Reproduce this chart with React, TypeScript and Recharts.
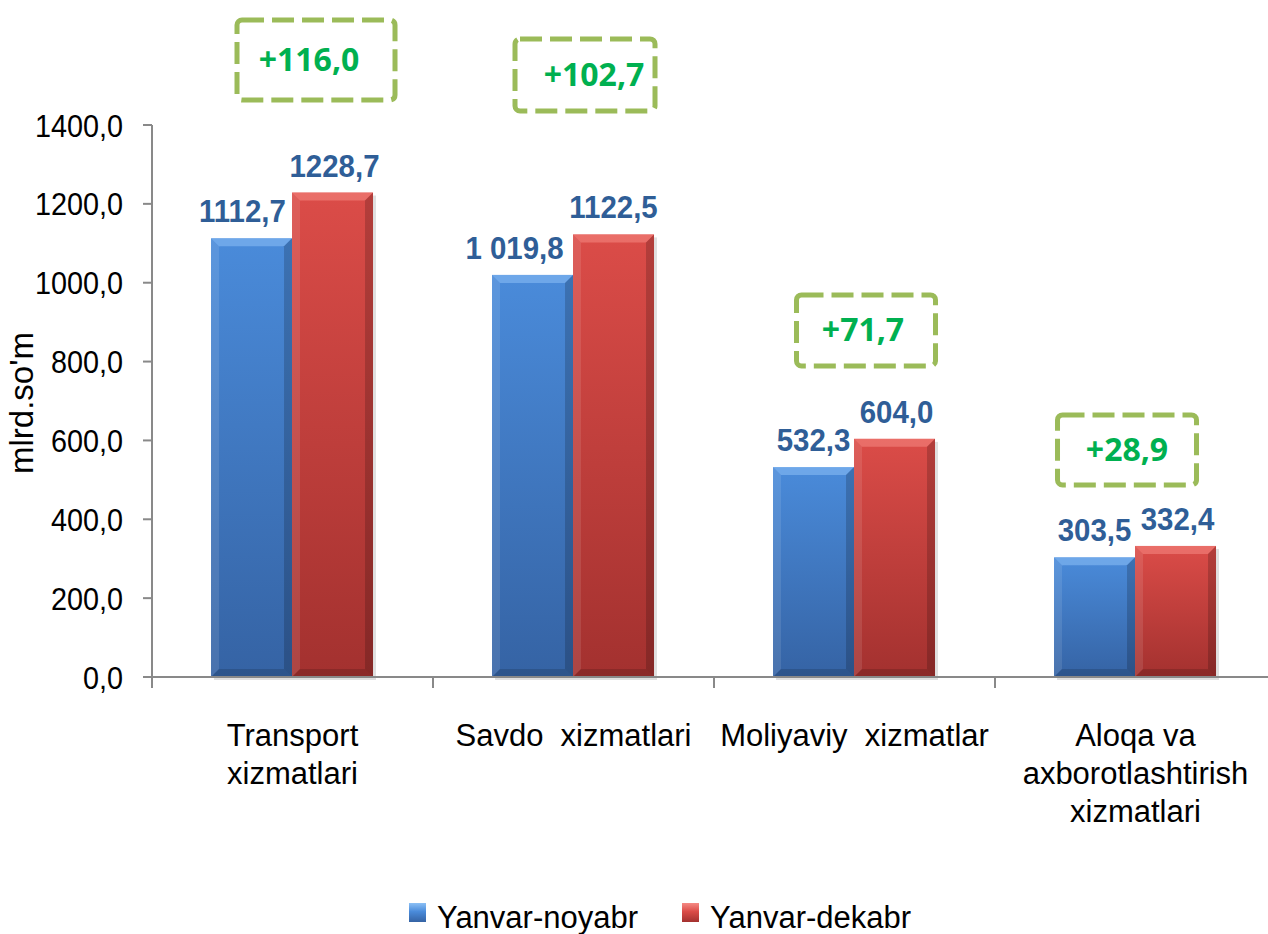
import React from 'react';
import { BarChart, Bar, XAxis, YAxis, LabelList } from 'recharts';

// values
const categories = [
  'Transport\nxizmatlari',
  'Savdo  xizmatlari',
  'Moliyaviy  xizmatlar',
  'Aloqa va\naxborotlashtirish\nxizmatlari',
];
const novValues = [1112.7, 1019.8, 532.3, 303.5];
const decValues = [1228.7, 1122.5, 604.0, 332.4];
const novLabels = ['1112,7', '1 019,8', '532,3', '303,5'];
const seriesNames = ['Yanvar-noyabr', 'Yanvar-dekabr'];
const yTicks = [0, 200, 400, 600, 800, 1000, 1200, 1400];

const fmt = (v: number) => v.toFixed(1).replace('.', ',');

const data = categories.map((name, i) => ({
  name,
  nov: novValues[i],
  dec: decValues[i],
  novLabel: novLabels[i],
  decLabel: fmt(decValues[i]),
  diff: '+' + fmt(decValues[i] - novValues[i]),
}));

// layout
const CHART_W = 1290;
const CHART_H = 934;
const MARGIN = { top: 125, right: 14, bottom: 57, left: 0 };
const Y_W = 152;
const BAND = (CHART_W - MARGIN.left - MARGIN.right - Y_W) / categories.length;
const FONT = '"Liberation Sans", Arial, sans-serif';
const AXIS = '#898989';

// difference boxes: x shift from category centre (px), centre level (data units), size
const NOTE_LAYOUT = [
  { dx: 24, level: 1565, w: 158, h: 80, textDx: -7 },
  { dx: 12, level: 1527, w: 140, h: 72, textDx: 9 },
  { dx: 12, level: 879, w: 139, h: 71, textDx: -3 },
  { dx: -8, level: 576, w: 139, h: 70, textDx: 0 },
];
// small horizontal nudges of the value labels (px)
const NOV_LABEL_DX = [-9, -18, 0, 0];
const DEC_LABEL_DX = [2, 0, 2, 2];

const COLORS = {
  nov: { grad: 'gBlue', top: '#4A8BDA', bottom: '#3563A4', light: '#8CC0F5' },
  dec: { grad: 'gRed', top: '#DB4C48', bottom: '#A3312F', light: '#F58A84' },
};

function bevelShape(c: { grad: string; light: string }) {
  return (props: any) => {
    const { x, y, width: w, height: h } = props;
    if (!h || h <= 0) return <g />;
    const b = 8;
    return (
      <g>
        <rect x={x + 3} y={y + 3} width={w} height={h} fill="rgba(0,0,0,0.12)" />
        <rect x={x} y={y} width={w} height={h} fill={`url(#${c.grad})`} />
        <polygon
          points={`${x},${y} ${x + w},${y} ${x + w - b},${y + b} ${x + b},${y + b}`}
          fill={c.light}
          opacity={0.55}
        />
        <polygon
          points={`${x},${y} ${x + b},${y + b} ${x + b},${y + h - b} ${x},${y + h}`}
          fill="#fff"
          opacity={0.1}
        />
        <polygon
          points={`${x + w},${y} ${x + w},${y + h} ${x + w - b},${y + h - b} ${x + w - b},${y + b}`}
          fill="#000"
          opacity={0.18}
        />
        <polygon
          points={`${x},${y + h} ${x + w},${y + h} ${x + w - b},${y + h - b} ${x + b},${y + h - b}`}
          fill="#000"
          opacity={0.15}
        />
      </g>
    );
  };
}

function CatTick(props: any) {
  const { x, y, payload, index } = props;
  const lines = String(payload.value).split('\n');
  return (
    <g>
      <line x1={x - BAND / 2} x2={x - BAND / 2} y1={y} y2={y + 11} stroke={AXIS} strokeWidth={2} />
      {index === categories.length - 1 && (
        <line x1={x + BAND / 2} x2={x + BAND / 2} y1={y} y2={y + 11} stroke={AXIS} strokeWidth={2} />
      )}
      <text
        x={x}
        y={y + 69}
        textAnchor="middle"
        fontSize={31}
        fontFamily={FONT}
        fill="#000"
        style={{ whiteSpace: 'pre' }}
      >
        {lines.map((l, i) => (
          <tspan key={i} x={x} dy={i === 0 ? 0 : 38}>
            {l}
          </tspan>
        ))}
      </text>
    </g>
  );
}

function ValTick(props: any) {
  const { x, y, payload } = props;
  return (
    <text
      transform={`translate(${x}, ${y}) scale(0.9, 1)`}
      x={0}
      y={0}
      dy="0.36em"
      textAnchor="end"
      fontSize={32}
      fontFamily={FONT}
      fill="#000"
    >
      {fmt(Number(payload.value))}
    </text>
  );
}

function renderYTitle(props: any) {
  const vb = props.viewBox || {};
  const cx = (vb.x ?? 0) + 33;
  const cy = (vb.y ?? MARGIN.top) + (vb.height ?? 550) / 2 + 2;
  return (
    <text
      x={cx}
      y={cy}
      transform={`rotate(-90, ${cx}, ${cy})`}
      textAnchor="middle"
      fontSize={33}
      fontFamily={FONT}
      fill="#000"
    >
      mlrd.so'm
    </text>
  );
}

function valueLabel(shift: number[]) {
  return (props: any) => {
    const vb = props.viewBox && props.viewBox.height !== undefined ? props.viewBox : props;
    const { x, y, width } = vb;
    const dx = shift[props.index] ?? 0;
    const tx = x + width / 2 + dx;
    const ty = y - 16;
    return (
      <text
        transform={`translate(${tx}, ${ty}) scale(0.92, 1)`}
        x={0}
        y={0}
        textAnchor="middle"
        fontSize={32}
        fontWeight={700}
        fontFamily={FONT}
        fill="#2F5E97"
      >
        {props.value}
      </text>
    );
  };
}

function renderNote(props: any) {
  const vb = props.viewBox && props.viewBox.height !== undefined ? props.viewBox : props;
  const { x, y, height } = vb;
  const i = props.index;
  const note = NOTE_LAYOUT[i];
  if (!note || !height) return null;
  const pxPerUnit = height / decValues[i];
  const base = y + height;
  const cx = x + note.dx;
  const cy = base - note.level * pxPerUnit;
  return (
    <g>
      <rect
        x={cx - note.w / 2}
        y={cy - note.h / 2}
        width={note.w}
        height={note.h}
        rx={5}
        fill="none"
        stroke="#9BBB59"
        strokeWidth={5}
        strokeDasharray="22 8"
      />
      <text
        x={cx + note.textDx}
        y={cy + 11}
        textAnchor="middle"
        fontSize={32}
        fontWeight={700}
        fontFamily='"Open Sans", sans-serif'
        fill="#00B050"
      >
        {props.value}
      </text>
    </g>
  );
}

export default function App() {
  const legendItems = [
    { name: seriesNames[0], c: COLORS.nov },
    { name: seriesNames[1], c: COLORS.dec },
  ];
  return (
    <div
      style={{
        position: 'absolute',
        left: 0,
        top: 0,
        width: 1268,
        height: 934,
        overflow: 'hidden',
        background: '#fff',
      }}
    >
      <BarChart
        width={CHART_W}
        height={CHART_H}
        data={data}
        margin={MARGIN}
        barCategoryGap="21%"
        barGap={0}
      >
        <defs>
          <linearGradient id="gBlue" x1="0" y1="0" x2="0" y2="1">
            <stop offset="0%" stopColor={COLORS.nov.top} />
            <stop offset="100%" stopColor={COLORS.nov.bottom} />
          </linearGradient>
          <linearGradient id="gRed" x1="0" y1="0" x2="0" y2="1">
            <stop offset="0%" stopColor={COLORS.dec.top} />
            <stop offset="100%" stopColor={COLORS.dec.bottom} />
          </linearGradient>
        </defs>
        <XAxis
          dataKey="name"
          interval={0}
          height={200}
          tickLine={false}
          tickSize={0}
          tickMargin={0}
          axisLine={{ stroke: AXIS, strokeWidth: 2 }}
          tick={<CatTick />}
        />
        <YAxis
          domain={[0, 1400]}
          ticks={yTicks}
          interval={0}
          width={Y_W}
          tickSize={9}
          tickMargin={20}
          tick={<ValTick />}
          axisLine={{ stroke: AXIS, strokeWidth: 2 }}
          tickLine={{ stroke: AXIS, strokeWidth: 2 }}
          label={renderYTitle}
        />
        <Bar dataKey="nov" name={seriesNames[0]} shape={bevelShape(COLORS.nov)} isAnimationActive={false}>
          <LabelList dataKey="novLabel" content={valueLabel(NOV_LABEL_DX)} />
        </Bar>
        <Bar dataKey="dec" name={seriesNames[1]} shape={bevelShape(COLORS.dec)} isAnimationActive={false}>
          <LabelList dataKey="decLabel" content={valueLabel(DEC_LABEL_DX)} />
          <LabelList dataKey="diff" content={renderNote} />
        </Bar>
      </BarChart>
      <div
        style={{
          position: 'absolute',
          top: 901,
          left: 409,
          display: 'flex',
          alignItems: 'flex-start',
          fontFamily: FONT,
          fontSize: 31,
          lineHeight: '34px',
          color: '#000',
          whiteSpace: 'nowrap',
        }}
      >
        {legendItems.map((it, i) => (
          <div key={i} style={{ display: 'flex', alignItems: 'flex-start', marginRight: 44 }}>
            <div
              style={{
                width: 17,
                height: 19,
                marginTop: 2,
                marginRight: 11,
                background: `linear-gradient(${it.c.light}, ${it.c.top} 45%, ${it.c.bottom})`,
              }}
            />
            <span>{it.name}</span>
          </div>
        ))}
      </div>
    </div>
  );
}
